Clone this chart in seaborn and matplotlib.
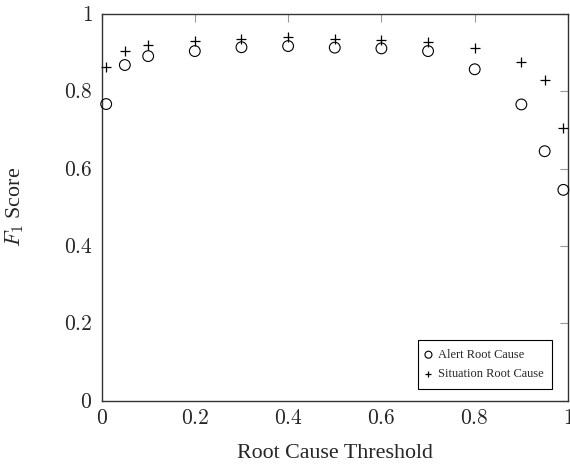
import matplotlib
matplotlib.use("Agg")
import matplotlib.pyplot as plt
import seaborn as sns
import pandas as pd

# ── Data ─────────────────────────────────────────────────────────────
thresholds = [0.01, 0.05, 0.1, 0.2, 0.3, 0.4, 0.5, 0.6, 0.7, 0.8, 0.9, 0.95, 0.99]
alert_f1 = [0.767, 0.868, 0.891, 0.904, 0.914, 0.917, 0.913, 0.911, 0.904, 0.857, 0.766, 0.645, 0.545]
situation_f1 = [0.864, 0.904, 0.920, 0.930, 0.935, 0.940, 0.935, 0.933, 0.927, 0.913, 0.875, 0.829, 0.705]
tick_vals = [0, 0.2, 0.4, 0.6, 0.8, 1]
tick_labels = ["0", "0.2", "0.4", "0.6", "0.8", "1"]

df = pd.DataFrame({
    "threshold": thresholds * 2,
    "f1": alert_f1 + situation_f1,
    "series": ["Alert Root Cause"] * len(thresholds) + ["Situation Root Cause"] * len(thresholds),
})

# ── Style ────────────────────────────────────────────────────────────
sns.set_style("white")
plt.rcParams.update({
    "font.family": ["Liberation Serif", "DejaVu Serif"],
    "mathtext.fontset": "cm",
})

fig = plt.figure(figsize=(5.7, 4.65), dpi=100)
ax = fig.add_axes([0.1781, 0.1387, 0.8184, 0.8312])

alert = df[df["series"] == "Alert Root Cause"]
sit = df[df["series"] == "Situation Root Cause"]
sns.scatterplot(data=alert, x="threshold", y="f1", marker="o", s=60,
                facecolor="none", edgecolor="black", linewidth=0.8,
                label="Alert Root Cause", ax=ax, zorder=3, clip_on=False)
sns.scatterplot(data=sit, x="threshold", y="f1", marker="+", s=60,
                color="black", linewidth=0.9,
                label="Situation Root Cause", ax=ax, zorder=3, clip_on=False)

ax.set_xlim(0, 1)
ax.set_ylim(0, 1)
ax.set_xticks(tick_vals)
ax.set_xticklabels(["$%s$" % t for t in tick_labels], fontsize=15.5)
ax.set_yticks(tick_vals)
ax.set_yticklabels(["$%s$" % t for t in tick_labels], fontsize=15.5)
ax.tick_params(direction="in", length=6, width=0.8, color="#999999",
               top=True, right=True)
ax.tick_params(axis="x", pad=7)
ax.tick_params(axis="y", pad=6.5)
for s in ax.spines.values():
    s.set_color("#333333")
    s.set_linewidth(1.0)

ax.set_xlabel("Root Cause Threshold", fontsize=15.8)
ax.set_ylabel(r"$F_1$ Score", fontsize=15.8)
ax.xaxis.set_label_coords(0.5, -0.1124)
ax.yaxis.set_label_coords(-0.162, 0.5)

leg = ax.legend(loc="lower right", bbox_to_anchor=(0.9657, 0.031),
                fontsize=8.9, frameon=True, fancybox=False,
                edgecolor="black", framealpha=1, borderpad=0.7,
                handletextpad=0.6, handlelength=0.3, labelspacing=0.56,
                borderaxespad=0, markerscale=0.65)
leg.get_frame().set_linewidth(0.8)

fig.savefig("out.png", dpi=100)
